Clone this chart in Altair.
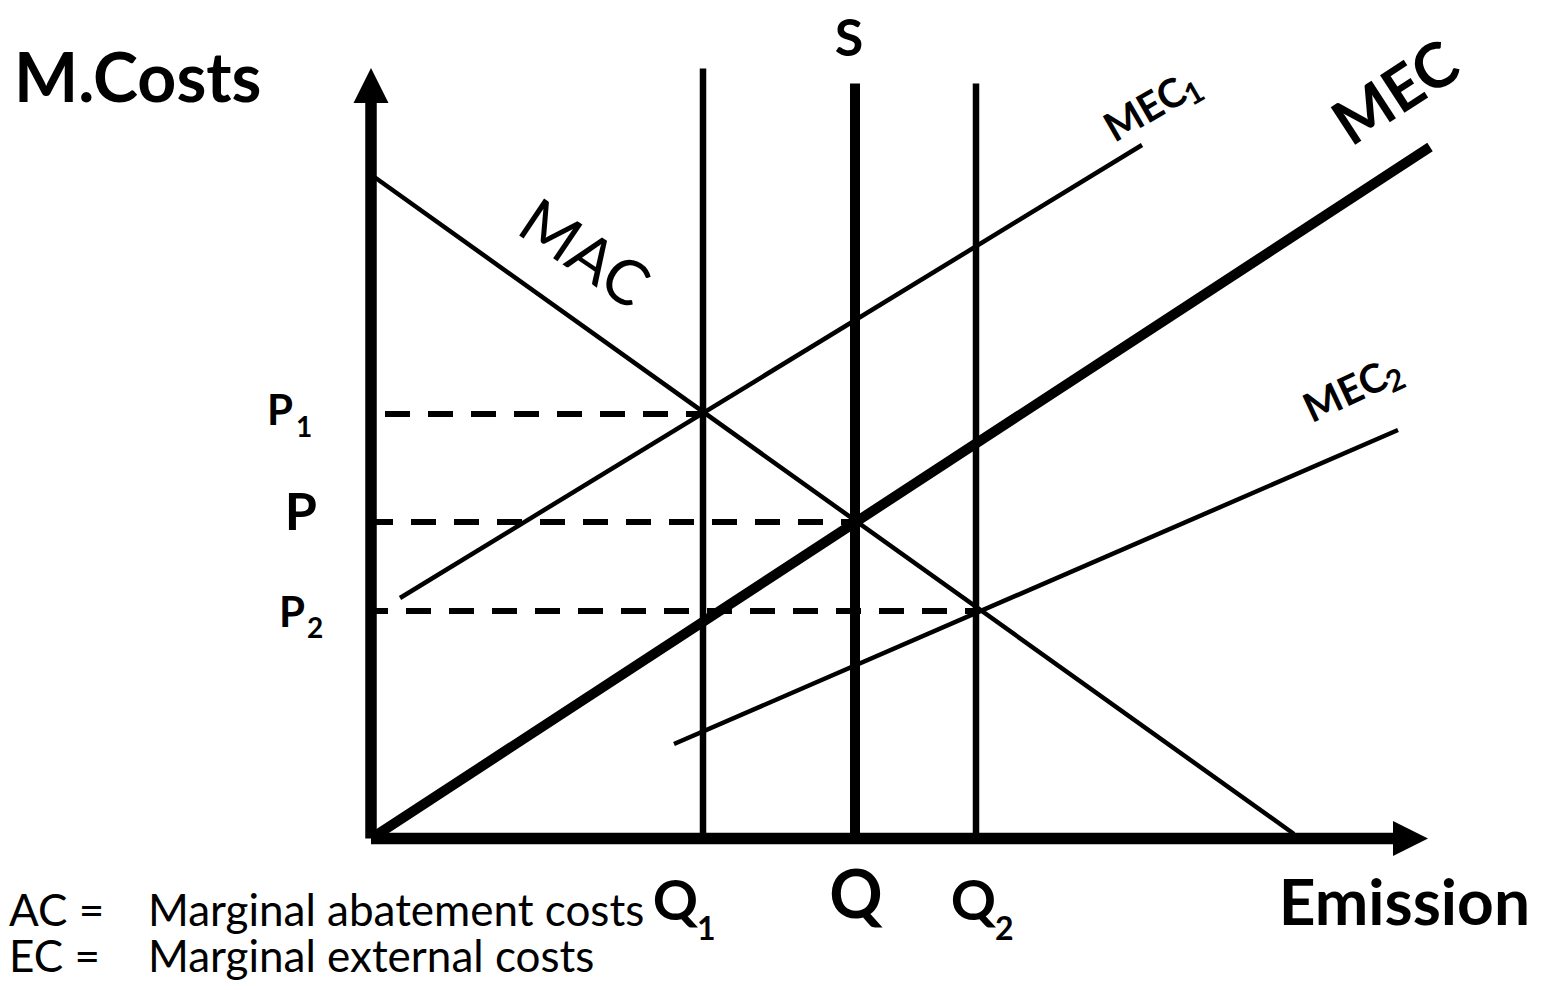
import math
import altair as alt
import pandas as pd

# ---------------- data (x = emission units, y = marginal cost units) ----------------
q_names = ["Q1", "Q", "Q2"]
q_values = [33.2, 48.4, 60.5]
q_tops = [77.0, 75.5, 75.5]          # upper end of the vertical Q1 / S / Q2 lines
p_names = ["P1", "P", "P2"]
p_values = [42.45, 31.65, 22.75]
p_starts = [1.4, 0.0, 0.0]           # where each dashed price line begins
p_ends = [33.2, 48.4, 60.9]          # where each dashed price line ends

mac_x = [0.4, 92.3]
mac_y = [66.1, 0.45]
mec_x = [0.4, 105.9]
mec_y = [0.25, 69.15]
mec1_x = [2.9, 77.1]
mec1_y = [24.05, 69.35]
mec2_x = [30.3, 102.7]
mec2_y = [9.45, 40.85]

axis_x_end = 102.2
axis_y_end = 73.55

legend_keys = ["AC =", "EC ="]
legend_texts = ["Marginal abatement costs", "Marginal external costs"]

# ---------------- layout ----------------
W, H = 1523, 972
PX = 10.0            # pixels per unit
OX, OY = 363.0, 830.5  # canvas position of origin
xs = alt.Scale(domain=[-OX / PX, (W - OX) / PX], nice=False, zero=False)
ys = alt.Scale(domain=[-(H - OY) / PX, OY / PX], nice=False, zero=False)
FONT = "Lato"


def X(field="x"):
    return alt.X(f"{field}:Q", scale=xs, axis=None)


def Y(field="y"):
    return alt.Y(f"{field}:Q", scale=ys, axis=None)


def seg(x1, y1, x2, y2, width, dash=None, offset=0):
    df = pd.DataFrame({"x": [x1], "y": [y1], "x2": [x2], "y2": [y2]})
    kw = dict(color="black", strokeWidth=width)
    if dash:
        kw["strokeDash"] = dash
        kw["strokeDashOffset"] = offset
    return alt.Chart(df).mark_rule(**kw).encode(
        x=X(), y=Y(), x2="x2:Q", y2="y2:Q"
    )


def rot(px, py, deg):
    t = math.radians(deg)
    return (math.cos(t) * px + math.sin(t) * py, -math.sin(t) * px + math.cos(t) * py)


def label(x, y, text, size, dx=0, dy=0, bold=True, align="center",
          baseline="alphabetic", angle=0):
    df = pd.DataFrame({"x": [x], "y": [y], "t": [text]})
    kw = dict(font=FONT, fontSize=size, fontWeight="bold" if bold else "normal",
              dx=dx, dy=dy, align=align, baseline=baseline, color="black")
    if angle:
        kw["angle"] = angle % 360
    return alt.Chart(df).mark_text(**kw).encode(x=X(), y=Y(), text="t:N")


layers = []

# dashed price lines
dash_offsets = [0, 3, 8]
for pv, ps, pe, off in zip(p_values, p_starts, p_ends, dash_offsets):
    layers.append(seg(ps, pv, pe, pv, 6, dash=[25, 18], offset=off))

# thin curves
layers.append(seg(mac_x[0], mac_y[0], mac_x[1], mac_y[1], 4.5))
layers.append(seg(mec1_x[0], mec1_y[0], mec1_x[1], mec1_y[1], 4.5))
layers.append(seg(mec2_x[0], mec2_y[0], mec2_x[1], mec2_y[1], 4.5))
# thick MEC
layers.append(seg(mec_x[0], mec_y[0], mec_x[1], mec_y[1], 10))

# vertical quantity lines
for name, qv, qt in zip(q_names, q_values, q_tops):
    layers.append(seg(qv, 0, qv, qt, 10 if name == "Q" else 6.5))

# axes
layers.append(seg(0, 0, 0, axis_y_end, 11.5))
layers.append(seg(0, 0, axis_x_end, 0, 11.5))
layers.append(
    alt.Chart(pd.DataFrame({"x": [0], "y": [axis_y_end + 1.75]}))
    .mark_point(shape="M0,-1L1,1L-1,1Z", filled=True, size=1225, color="black", opacity=1)
    .encode(x=X(), y=Y())
)
layers.append(
    alt.Chart(pd.DataFrame({"x": [axis_x_end + 1.75], "y": [0]}))
    .mark_point(shape="M1,0L-1,-1L-1,1Z", filled=True, size=1225, color="black", opacity=1)
    .encode(x=X(), y=Y())
)

# axis titles
layers.append(label(0, axis_y_end, "M.Costs", 68, dx=-357, dy=-1, align="left"))
layers.append(label(axis_x_end, 0, "Emission", 64, dx=137, dy=86.5, align="right"))
layers.append(label(q_values[1], q_tops[1], "S", 52, dx=-6, dy=-27.5))

# price labels
layers.append(label(0, p_values[0], "P", 42, dx=-78, dy=11, align="right"))
layers.append(label(0, p_values[0], "1", 28, dx=-75, dy=23, align="left"))
layers.append(label(0, p_values[1], "P", 52, dx=-54, dy=8, align="right"))
layers.append(label(0, p_values[2], "P", 42, dx=-66, dy=16, align="right"))
layers.append(label(0, p_values[2], "2", 28, dx=-64, dy=27, align="left"))

# quantity labels
layers.append(label(q_values[0], 0, "Q", 56, dx=-5, dy=81.5, align="right"))
layers.append(label(q_values[0], 0, "1", 32, dx=-6, dy=101, align="left"))
layers.append(label(q_values[1], 0, "Q", 66, dx=1, dy=79.5))
layers.append(label(q_values[2], 0, "Q", 56, dx=20, dy=81.5, align="right"))
layers.append(label(q_values[2], 0, "2", 32, dx=19, dy=101, align="left"))

# curve labels (rotated)
a = -33
dx, dy = rot(-33, -52, a)
layers.append(label(mec_x[1], mec_y[1], "MEC", 62, dx=dx, dy=dy, baseline="middle", angle=a))

a = -30
dx, dy = rot(4, -34, a)
layers.append(label(mec1_x[1], mec1_y[1], "MEC", 40, dx=dx, dy=dy, baseline="middle", angle=a))
layers.append(label(mec1_x[1], mec1_y[1], "1", 30, dx=dx + 42, dy=dy + 10,
                    baseline="middle", align="left", angle=a))

a = -25
dx, dy = rot(-52, -36, a)
layers.append(label(mec2_x[1], mec2_y[1], "MEC", 40, dx=dx, dy=dy, baseline="middle", angle=a))
layers.append(label(mec2_x[1], mec2_y[1], "2", 30, dx=dx + 42, dy=dy + 10,
                    baseline="middle", align="left", angle=a))

a = 34
dx, dy = rot(208, 78, a)
layers.append(label(mac_x[0], mac_y[0], "MAC", 62, dx=dx, dy=dy, bold=False,
                    baseline="middle", angle=a))

# legend
for i, (k, t) in enumerate(zip(legend_keys, legend_texts)):
    layers.append(label(0, 0, k, 44, dx=-362, dy=87.5 + 46 * i, bold=False, align="left"))
    layers.append(label(0, 0, t, 44, dx=-223, dy=87.5 + 46 * i, bold=False, align="left"))

chart = (
    alt.layer(*layers)
    .properties(width=W, height=H, padding=0, autosize=alt.AutoSizeParams(type="none"),
                background="white")
    .configure_view(stroke=None)
)

chart.save("out.html", embed_options={"renderer": "svg", "actions": False})
